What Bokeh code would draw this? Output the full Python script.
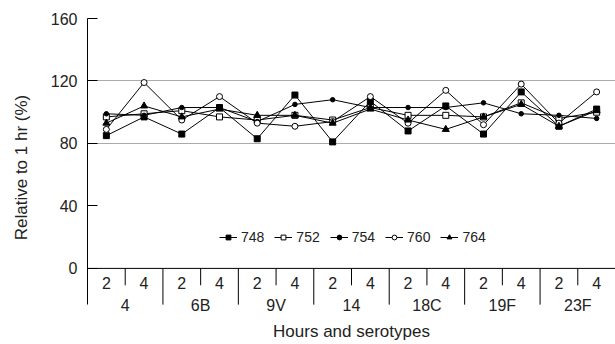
from bokeh.plotting import figure
from bokeh.models import (FactorRange, Range1d, FixedTicker, Span, Title,
                          Legend, LegendItem, ColumnDataSource)
from bokeh.core.properties import value
from bokeh.embed import file_html
from bokeh.resources import INLINE

# ---- data -------------------------------------------------------------
serotypes = ["4", "6B", "9V", "14", "18C", "19F", "23F"]
hours = ["2", "4"]

s748 = [85, 97, 86, 103, 83, 111, 81, 107, 88, 104, 86, 113, 91, 102]
s752 = [97, 99, 101, 97, 95, 98, 95, 103, 98, 98, 97, 106, 96, 100]
s754 = [99, 98, 103, 103, 94, 105, 108, 103, 103, 103, 106, 99, 98, 96]
s760 = [89, 119, 95, 110, 93, 91, 94, 110, 93, 114, 92, 118, 93, 113]
s764 = [93, 104, 97, 102, 98, 98, 93, 102, 95, 89, 97, 105, 91, 101]

y_ticks = [0, 40, 80, 120, 160]
grid_ticks = [80, 120]

series = [
    ("748", s748, "square", "black", 6),
    ("752", s752, "square", "white", 6),
    ("754", s754, "circle", "black", 4.5),
    ("760", s760, "circle", "white", 6),
    ("764", s764, "triangle", "black", 7),
]

FONT = "Liberation Sans"
TXT = "#222222"

factors = [(s, h) for s in serotypes for h in hours]

W, H = 615, 344
LEFT, TOP, BOTTOM = 87, 18, 27
Y_LOW = -30.8          # room below zero for the category labels
SEP_LOW = -23.2        # end of the separators between serotypes
TICK_LOW = -10.8       # end of the short tick between hours

p = figure(width=W, height=H,
           x_range=FactorRange(*factors, factor_padding=0, group_padding=0,
                               subgroup_padding=0, range_padding=0),
           y_range=Range1d(Y_LOW, 160),
           output_backend="svg", toolbar_location=None,
           min_border_left=LEFT, min_border_right=0,
           min_border_top=TOP, min_border_bottom=BOTTOM)
p.outline_line_color = None
p.background_fill_color = "white"

# grid
p.xgrid.visible = False
p.ygrid.ticker = FixedTicker(ticks=grid_ticks)
p.ygrid.grid_line_color = "#555555"
p.ygrid.grid_line_dash = "1 1"
p.ygrid.grid_line_width = 1

# y axis
ya = p.yaxis[0]
ya.ticker = FixedTicker(ticks=y_ticks)
ya.bounds = (SEP_LOW, 160)
ya.major_tick_in = 10
ya.major_tick_out = 0
ya.minor_tick_line_color = None
ya.axis_line_color = "black"
ya.major_tick_line_color = "black"
ya.major_label_standoff = 10
ya.major_label_text_font = FONT
ya.major_label_text_font_size = "16px"
ya.major_label_text_color = TXT
ya.axis_label = "Relative to 1 hr (%)"
ya.axis_label_text_font = FONT
ya.axis_label_text_font_size = "17px"
ya.axis_label_text_font_style = "normal"
ya.axis_label_text_color = TXT
ya.axis_label_standoff = 17

# x axis: line at zero, tick marks and two rows of category labels
p.xaxis.visible = False
p.add_layout(Span(location=0, dimension="width", line_color="black",
                  line_width=1))

n = len(serotypes)
k = len(hours)
bounds = [i * k for i in range(1, n)]
mids = [i * k + 1 for i in range(n)]
p.segment(x0=bounds, x1=bounds, y0=[0] * len(bounds),
          y1=[SEP_LOW] * len(bounds), line_color="black", line_width=1)
p.segment(x0=mids, x1=mids, y0=[0] * len(mids),
          y1=[TICK_LOW] * len(mids), line_color="black", line_width=1)

hour_src = ColumnDataSource(dict(x=factors, y=[0] * len(factors),
                                 t=[h for _, h in factors]))
p.text(x="x", y="y", text="t", source=hour_src, y_offset=15,
       text_align="center", text_baseline="middle",
       text_font=value(FONT), text_font_size="16px", text_color=TXT)
grp_src = ColumnDataSource(dict(x=serotypes, y=[0] * n, t=serotypes))
p.text(x="x", y="y", text="t", source=grp_src, y_offset=37,
       text_align="center", text_baseline="middle",
       text_font=value(FONT), text_font_size="16px", text_color=TXT)

p.add_layout(Title(text="Hours and serotypes", align="center",
                   text_font=FONT, text_font_size="17px",
                   text_font_style="normal", text_color=TXT,
                   standoff=7), "below")

# series
items = []
for name, vals, marker, fill, size in series:
    lr = p.line(factors, vals, line_color="black", line_width=1)
    sr = p.scatter(factors, vals, marker=marker, size=size,
                   fill_color=fill, line_color="black", line_width=1)
    items.append(LegendItem(label=name, renderers=[lr, sr]))

legend = Legend(items=items, orientation="horizontal", location=(132, 71),
                glyph_width=18, glyph_height=12, label_standoff=4,
                spacing=10, padding=0, margin=0,
                border_line_color=None, background_fill_alpha=0,
                label_text_font=FONT, label_text_font_size="14px",
                label_text_color=TXT, label_height=14)
p.add_layout(legend)

open("out.html", "w").write(file_html(p, INLINE))
